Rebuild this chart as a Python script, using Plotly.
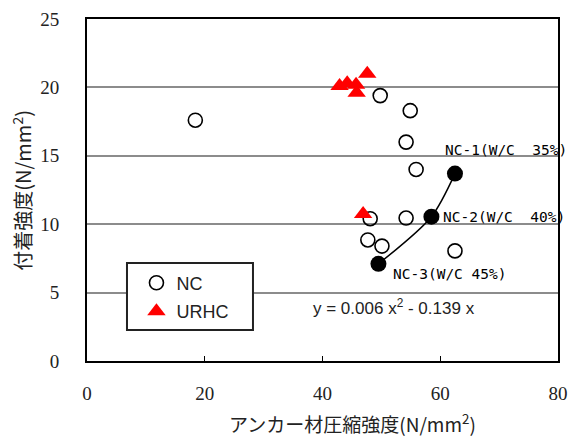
import plotly.graph_objects as go

# NC specimens (open circles): anchor compressive strength vs bond strength
nc_x = [18.4, 49.8, 54.9, 54.2, 55.9, 48.1, 54.2, 47.7, 50.1, 62.5]
nc_y = [17.6, 19.4, 18.3, 16.0, 14.0, 10.4, 10.45, 8.85, 8.4, 8.05]

# URHC specimens (red triangles)
urhc_x = [42.9, 44.2, 45.7, 45.8, 47.6, 46.9]
urhc_y = [20.1, 20.3, 20.2, 19.6, 21.0, 10.75]

# NC mean values by water-cement ratio (filled circles)
mean_x = [62.5, 58.5, 49.5]
mean_y = [13.7, 10.55, 7.1]
mean_labels = ["NC-1(W/C  35%)", "NC-2(W/C  40%)", "NC-3(W/C 45%)"]

x_ticks = [0, 20, 40, 60, 80]
y_ticks = [0, 5, 10, 15, 20, 25]

SERIF = "Liberation Serif"

fig = go.Figure()

fig.add_trace(go.Scatter(
    x=nc_x, y=nc_y, mode="markers", name="NC",
    marker=dict(symbol="circle-open", size=14, color="black",
                line=dict(width=1.6, color="black")),
))

fig.add_trace(go.Scatter(
    x=mean_x, y=mean_y, mode="lines+markers", showlegend=False,
    line=dict(color="black", width=1.5, shape="spline", smoothing=0.8),
    marker=dict(symbol="circle", size=16, color="black"),
))

fig.add_trace(go.Scatter(
    x=urhc_x, y=urhc_y, mode="markers", name="URHC",
    marker=dict(symbol="triangle-up", size=16, color="#ff0000"),
))

label_dx = [-2.1, 1.7, 2.1]
label_dy = [1.7, 0.0, -0.74]
for xv, yv, txt, dx, dy in zip(mean_x, mean_y, mean_labels, label_dx, label_dy):
    fig.add_annotation(
        x=xv + dx, y=yv + dy, text=txt, showarrow=False,
        xanchor="left", yanchor="middle",
        font=dict(family="DejaVu Sans Mono", size=14.5, color="black"),
    )

fig.add_annotation(
    x=38.0, y=3.97, xref="x", yref="y", text="y = 0.006 x<sup>2</sup> - 0.139 x",
    showarrow=False, xanchor="left", yanchor="middle",
    font=dict(family="Liberation Sans", size=17, color="#222"),
)

# axis titles
fig.add_annotation(
    x=0.5637, y=-0.180, xref="paper", yref="paper",
    text="アンカー材圧縮強度(N/mm<sup>2</sup>)", showarrow=False,
    xanchor="center", yanchor="middle",
    font=dict(family="Noto Sans CJK JP", size=19, color="#222"),
)
fig.add_annotation(
    x=-0.1386, y=0.5, xref="paper", yref="paper",
    text="付着強度(N/mm<sup>2</sup>)", showarrow=False, textangle=-90,
    xanchor="center", yanchor="middle",
    font=dict(family="Noto Sans CJK JP", size=20, color="#222"),
)

# legend frame
fig.add_shape(
    type="rect", xref="paper", yref="paper",
    x0=0.0849, x1=0.3524, y0=0.0906, y1=0.2865,
    fillcolor="white", line=dict(color="#222", width=2), layer="above",
)

fig.update_layout(
    width=568, height=437,
    margin=dict(l=87, r=10, t=19, b=76, autoexpand=False),
    paper_bgcolor="white", plot_bgcolor="white",
    font=dict(family=SERIF, size=19, color="#222"),
    showlegend=True,
    legend=dict(
        x=0.105, y=0.282, xanchor="left", yanchor="top",
        bgcolor="rgba(0,0,0,0)", borderwidth=0,
        font=dict(family="Liberation Sans", size=18, color="#222"),
        tracegroupgap=2,
    ),
    xaxis=dict(
        range=[0, 80], tickvals=x_ticks,
        showgrid=False, zeroline=False,
        showline=True, linecolor="black", linewidth=2, mirror=True,
        ticks="inside", ticklen=5, tickcolor="black", tickwidth=1,
        tickfont=dict(family=SERIF, size=19, color="#222"),
        ticklabelstandoff=14, automargin=False,
    ),
    yaxis=dict(
        range=[0, 25], tickvals=y_ticks,
        showgrid=True, gridcolor="#8c8c8c",
        gridwidth=1.5, zeroline=False,
        showline=True, linecolor="black", linewidth=2, mirror=True,
        ticks="", tickfont=dict(family=SERIF, size=19, color="#222"),
        ticklabelstandoff=22, automargin=False,
    ),
)

for tr, grp in zip(fig.data, ["a", "b", "c"]):
    tr.legendgroup = grp

fig.write_html("out.html")
